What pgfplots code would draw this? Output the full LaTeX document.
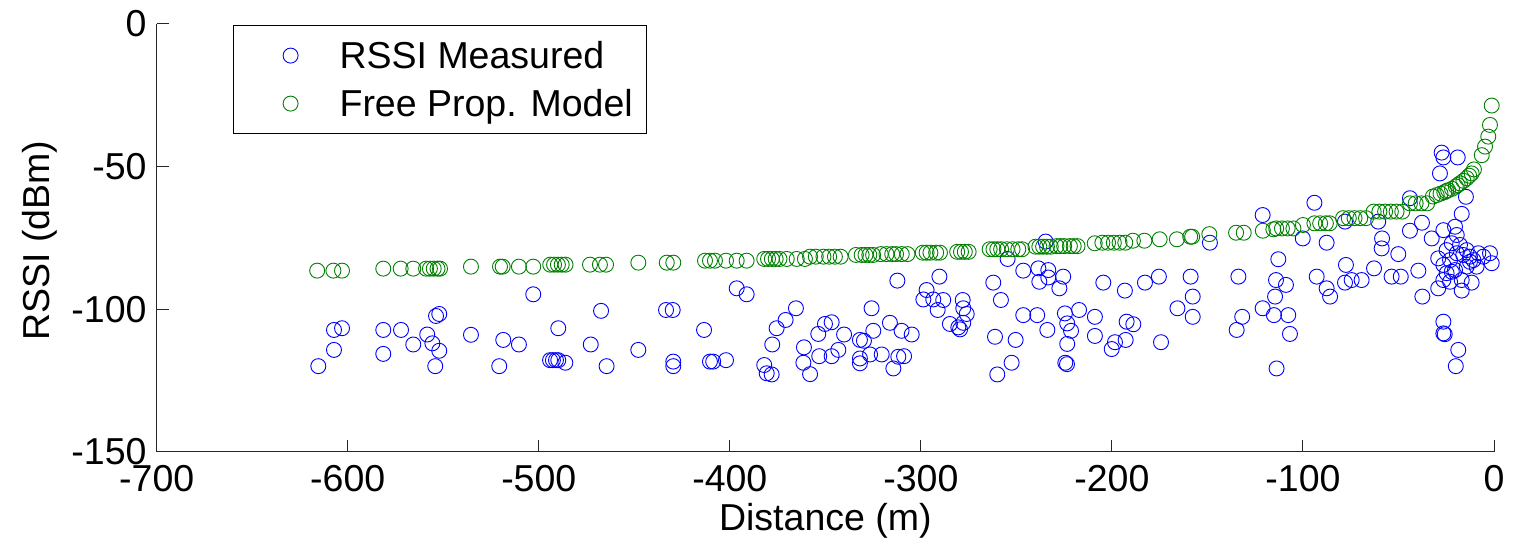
\documentclass[border=0pt]{standalone}
\usepackage{pgfplots}
\pgfplotsset{compat=1.18}
\usepackage{fontspec}
\setmainfont{Liberation Sans}
\definecolor{mblue}{rgb}{0,0,1}
\definecolor{mgreen}{rgb}{0,0.5,0}
\newcommand{\ff}{\fontsize{37.5bp}{45bp}\selectfont}
\begin{document}
\begin{tikzpicture}
\useasboundingbox (0,0) rectangle (1517bp,545bp);
\begin{axis}[
  at={(156.7bp,93.3bp)}, anchor=south west,
  scale only axis, width=1337.3bp, height=427.7bp,
  xmin=-700, xmax=0, ymin=-150, ymax=0,
  enlargelimits=false, clip=false,
  axis x line*=bottom, axis y line*=left,
  axis line style={-, line width=1bp, black!85},
  tick style={line width=1bp, black!85},
  tick align=inside, major tick length=12bp,
  xtick={-700,-600,-500,-400,-300,-200,-100,0},
  xticklabels={-700,-600,-500,-400,-300,-200,-100,0},
  ytick={-150,-100,-50,0},
  yticklabels={-150,-100,-50,0},
  xticklabel style={font=\ff, anchor=base, inner sep=0pt, yshift=-40.3bp},
  yticklabel style={font=\ff, anchor=east, inner sep=0pt, xshift=-10bp},
  xlabel={Distance (m)},
  ylabel={RSSI (dBm)},
  xlabel style={font=\ff, at={(axis description cs:0.5,0)}, anchor=base, inner sep=0pt, yshift=-78.3bp},
  ylabel style={font=\ff, at={(axis description cs:-0.0798,0.493)}, anchor=base, inner sep=0pt},
  legend cell align=left,
  legend style={font=\ff, at={(0.05705,0.99766)}, anchor=north west,
    draw=black, line width=1.2bp, fill=white,
    inner xsep=14bp, inner ysep=6bp, row sep=0pt, column sep=0pt,
    nodes={inner sep=0pt, text height=37.4bp, text depth=10.6bp}},
  legend image code/.code={\path[draw=none,fill=none] (0bp,-20bp) (92bp,20bp); \draw[line width=0.9bp] plot coordinates {(43bp,0bp)};},
]
\addplot[only marks, mark=o, color=mblue, mark size=7.5bp, line width=0.9bp] coordinates {
(-502.9,-94.8) (-553.8,-102.4) (-552.1,-101.7) (-467.4,-100.6) (-607.2,-107.3) (-603,-106.7)
(-581.4,-107.3) (-572.1,-107.3) (-489.8,-106.7) (-535.5,-109) (-558.4,-108.9) (-565.7,-112.4)
(-555.7,-112) (-552.1,-114.6) (-607.2,-114.3) (-581.4,-115.7) (-518.6,-110.8) (-510.4,-112.4)
(-472.8,-112.4) (-447.9,-114.3) (-615.4,-120) (-554.2,-120) (-520.7,-120) (-494.1,-117.9)
(-492.6,-117.9) (-491,-117.9) (-489.8,-117.9) (-486.1,-118.8) (-464.5,-120)
(-312.3,-90) (-290.3,-88.6) (-396.4,-92.7) (-391.2,-94.8) (-297,-93.3) (-298.7,-96.6)
(-293.5,-96.6) (-288.3,-96.8) (-291.2,-100.3) (-278.1,-96.8) (-277.8,-99.7) (-276,-101.7)
(-284.8,-105.2) (-280.4,-106.4) (-279.5,-107.1) (-277.8,-104.8) (-433.4,-100.3) (-429.9,-100.3)
(-325.8,-99.7) (-365.4,-99.7) (-370.8,-103.8) (-375.5,-106.7) (-377.8,-112.4) (-413.5,-107.3)
(-429.6,-118.4) (-429.6,-120) (-410.4,-118.4) (-408.7,-118.4) (-402,-117.9) (-382,-119.6)
(-380.7,-122.5) (-378.1,-122.9) (-353.7,-108.7) (-350.2,-105.2) (-346.7,-104.6) (-340.2,-108.9)
(-361.2,-113.4) (-353.2,-116.5) (-346.7,-116.5) (-343.2,-114.3) (-361.5,-118.8) (-358,-122.8)
(-331.9,-110.8) (-329.8,-111.1) (-324.9,-107.6) (-316.2,-104.8) (-310.1,-107.6) (-304.8,-108.9)
(-331.9,-117.3) (-331.9,-119) (-326.6,-115.9) (-320.5,-115.9) (-314.4,-120.8) (-311.8,-116.7)
(-308.8,-116.5)
(-234.7,-76.3) (-254.6,-82.4) (-246.4,-86.5) (-238.5,-85.7) (-233.3,-86.3) (-238,-90.4)
(-233.3,-88.9) (-225.5,-88.6) (-227.5,-92.7) (-262.1,-90.7) (-258.1,-96.8) (-204.5,-90.7)
(-193.2,-93.5) (-182.7,-90.7) (-175.4,-88.6) (-158.8,-88.6) (-157.7,-95.6) (-165.7,-99.7)
(-157.7,-102.7) (-133.8,-88.6) (-131.8,-102.7) (-134.7,-107.3) (-121.1,-67) (-148.7,-76.7)
(-246.4,-102.1) (-239.1,-102.1) (-261.2,-109.7) (-250.4,-110.8) (-224.6,-101.5) (-217.2,-100.3)
(-223.4,-105) (-221.4,-107.6) (-208.9,-102.7) (-233.8,-107.3) (-223.4,-112.2) (-208.9,-109.4)
(-192.3,-104.4) (-188.8,-105.3) (-198.4,-111.6) (-200.1,-114) (-192.8,-110.8) (-174.3,-111.6)
(-252.5,-118.8) (-260,-122.9) (-224.4,-118.8) (-223.5,-119.3) (-121.1,-99.7) (-115.2,-102.1)
(-112.9,-82.5) (-114.1,-89.8) (-114.6,-95.6) (-113.8,-120.8)
(-27.4,-45.1) (-26.5,-46.8) (-19,-46.8) (-28.3,-52.4) (-14.7,-60.6) (-16.9,-66.6)
(-44,-61.1) (-94,-62.7) (-78,-69.3) (-60.6,-69.3) (-44,-72.5) (-37.7,-69.7)
(-100.1,-75.2) (-87.6,-76.7) (-58.6,-75.2) (-58.8,-78.7) (-50.1,-80.7) (-32.6,-75.2)
(-77.5,-84.5) (-92.8,-88.6) (-87.6,-92.7) (-85.8,-95.6) (-78,-90.7) (-74.5,-89.8)
(-69.3,-89.8) (-62.8,-85.7) (-53.6,-88.6) (-48.8,-88.6) (-39.6,-86.5) (-37.5,-95.6)
(-29.2,-92.7) (-108.9,-91.5) (-107.7,-102.1) (-106.8,-108.7)
(-26.5,-72.3) (-20.4,-71.1) (-19.5,-74) (-22.1,-76.9) (-17.8,-77.5) (-24.8,-79.3)
(-29.2,-82.2) (-26.5,-84.5) (-23,-82.8) (-19.5,-80.4) (-16.1,-81) (-12.6,-81.6)
(-10.8,-82.8) (-8.2,-80.4) (-5.6,-81.6) (-2.1,-80.4) (-1.2,-83.9) (-9.1,-85.1)
(-14.3,-85.1) (-20.4,-86.3) (-24.8,-87.4) (-26.5,-89.8) (-23,-90.4) (-16.9,-89.8)
(-11.7,-90.7) (-16.9,-93.5) (-22.1,-86.9) (-12.6,-83.4) (-14.3,-79.3)
(-26.5,-104.4) (-26.5,-108.5) (-25.8,-108.8) (-18.7,-114.3) (-20,-120)
};
\addlegendentry{RSSI Measured}
\addplot[only marks, mark=o, color=mgreen, mark size=7.5bp, line width=0.9bp] coordinates {
(-616,-86.5) (-607.5,-86.5) (-603,-86.5) (-581.4,-85.8) (-572.3,-85.8) (-565.7,-85.8)
(-559,-85.8) (-557,-85.8) (-555,-85.8) (-553,-85.8) (-551.7,-85.8) (-535.5,-85.1)
(-520.3,-85.1) (-518.9,-85.1) (-510.4,-85.1) (-502.9,-85.1) (-494,-84.4) (-492,-84.4)
(-490,-84.4) (-488,-84.4) (-486,-84.4) (-473.2,-84.4) (-468,-84.4) (-464.8,-84.4)
(-447.9,-83.7) (-433,-83.7) (-429.6,-83.7) (-413,-83) (-410.4,-83) (-407.8,-83)
(-402,-83) (-396.4,-83) (-391.2,-83) (-382,-82.4) (-380,-82.4) (-378,-82.4)
(-376,-82.4) (-374,-82.4) (-370.2,-82.4) (-365,-82.4) (-360.7,-82.4) (-358,-81.6)
(-355,-81.6) (-351,-81.6) (-348,-81.6) (-345,-81.6) (-342,-81.6) (-334,-81)
(-331,-81) (-329,-81) (-327,-81) (-325,-81) (-321,-80.7) (-318,-80.7)
(-315,-80.7) (-313,-80.7) (-310,-80.7) (-307,-80.7) (-299,-80.2) (-297,-80.2)
(-295,-80.2) (-292,-80.2) (-290,-80.2) (-281,-79.9) (-279,-79.9) (-277,-79.9)
(-275,-79.9) (-264,-79) (-262,-79) (-260,-79) (-258,-79) (-255,-79)
(-252,-79) (-249,-79) (-247,-79) (-240,-78.1) (-238,-78.1) (-236,-78.1)
(-234,-78.1) (-232,-78.1) (-229,-77.9) (-227,-77.9) (-225,-77.9) (-222,-77.9)
(-220,-77.9) (-218,-77.9) (-209,-76.9) (-205,-76.7) (-202,-76.7) (-199,-76.7)
(-196,-76.7) (-193,-76.7) (-189,-76) (-183,-76) (-175,-75.5) (-166,-75.5)
(-159,-74.6) (-158,-74.6) (-149,-73.7) (-135,-73.2) (-131,-73.2) (-121,-72.5)
(-115.5,-72) (-114,-71.7) (-111,-71.7) (-108,-71.7) (-105,-71.7) (-100,-70.5)
(-94,-69.9) (-91,-69.9) (-88,-69.9) (-86,-69.9) (-79,-68.1) (-76,-68.1)
(-73,-68.1) (-70,-68.1) (-67,-68.1) (-63,-65.8) (-60,-65.8) (-57,-65.8)
(-54,-65.8) (-51,-65.8) (-48,-65.8) (-44,-62.9) (-41,-62.9) (-38,-62.9)
(-35,-62.9) (-32,-60.5) (-30,-60) (-28,-59.5) (-26,-59) (-25,-58.6)
(-24,-58.3) (-22,-57.8) (-20,-57) (-19,-56.5) (-17.8,-55.9) (-16,-55)
(-14.3,-54.1) (-13,-53.2) (-11.7,-52.4) (-10.5,-51) (-6.4,-46) (-4.7,-43)
(-3,-39.5) (-2.1,-35.4) (-1.2,-28.6)
};
\addlegendentry{Free Prop. Model}
\end{axis}
\end{tikzpicture}
\end{document}
